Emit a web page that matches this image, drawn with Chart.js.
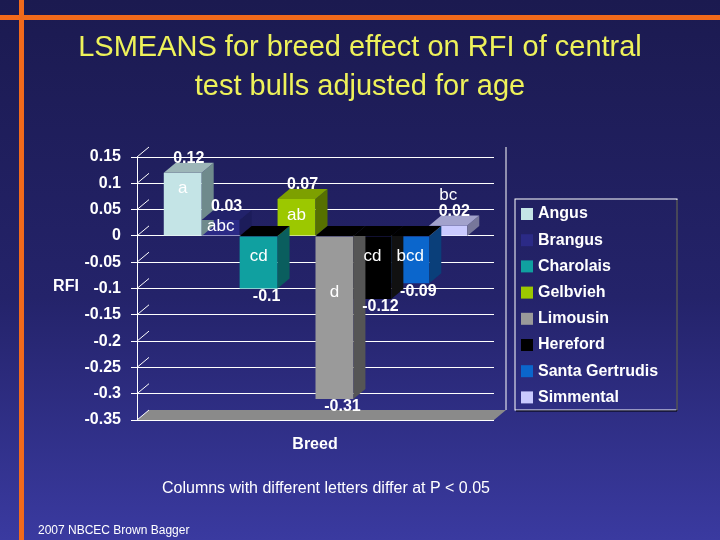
<!DOCTYPE html>
<html>
<head>
<meta charset="utf-8">
<script src="https://cdn.jsdelivr.net/npm/chart.js@4"></script>
<style>
  html, body { margin: 0; padding: 0; }
  body { width: 720px; height: 540px; overflow: hidden;
         background: linear-gradient(#1b1a50 0%, #24236a 55%, #3a3aa0 100%); }
  #chart { position: absolute; left: 0; top: 0; }
</style>
</head>
<body>
<canvas id="chart" width="720" height="540"></canvas>
<script>
// data
const breeds = ['Angus', 'Brangus', 'Charolais', 'Gelbvieh', 'Limousin', 'Hereford', 'Santa Gertrudis', 'Simmental'];
const rfi = [0.12, 0.03, -0.1, 0.07, -0.31, -0.12, -0.09, 0.02];
const letters = ['a', 'abc', 'cd', 'ab', 'd', 'cd', 'bcd', 'bc'];
const yTicks = [0.15, 0.1, 0.05, 0, -0.05, -0.1, -0.15, -0.2, -0.25, -0.3, -0.35];

const colors = ['#c4e4e6', '#2b2a86', '#10a0a0', '#9cc800', '#9a9a9a', '#000000', '#0b66cc', '#cacaff'];
const sideColors = ['#6f8a8c', '#1c1c5a', '#0a5e5e', '#567000', '#555555', '#111111', '#0a3f7a', '#77779a'];
const DX = 12, DY = 10;
const FONT = '"Liberation Sans", Arial, sans-serif';

function shade(hex, f) {
    const n = parseInt(hex.slice(1), 16);
    const r = Math.min(255, Math.round(((n >> 16) & 255) * f));
    const g = Math.min(255, Math.round(((n >> 8) & 255) * f));
    const b = Math.min(255, Math.round((n & 255) * f));
    return `rgb(${r},${g},${b})`;
}

// 3D faces behind / beside bars
const bars3d = {
    id: 'bars3d',
    beforeDatasetsDraw(chart) {
        const ctx = chart.ctx;
        const y = chart.scales.y;
        const area = chart.chartArea;
        const yMin = y.getPixelForValue(-0.35);
        ctx.save();
        // floor slab
        ctx.fillStyle = '#8a8a8a';
        ctx.beginPath();
        ctx.moveTo(area.left, yMin);
        ctx.lineTo(area.left + DX, yMin - DY);
        ctx.lineTo(area.right + DX, yMin - DY);
        ctx.lineTo(area.right, yMin);
        ctx.closePath();
        ctx.fill();
        ctx.strokeStyle = '#ffffff';
        ctx.lineWidth = 1;
        ctx.beginPath();
        ctx.moveTo(area.right + DX, area.top - DY);
        ctx.lineTo(area.right + DX, yMin - DY);
        ctx.stroke();
        y.ticks.forEach(t => {
            const py = y.getPixelForValue(t.value);
            ctx.beginPath();
            ctx.moveTo(area.left, py);
            ctx.lineTo(area.left + DX, py - DY);
            ctx.stroke();
        });
        ctx.restore();
    },
    afterDatasetsDraw(chart) {
        const ctx = chart.ctx;
        const y0 = chart.scales.y.getPixelForValue(0);
        ctx.save();
        chart.data.datasets.forEach((ds, i) => {
            const bar = chart.getDatasetMeta(i).data[0];
            const l = bar.x - bar.width / 2, r = bar.x + bar.width / 2;
            const top = Math.min(bar.y, y0), bot = Math.max(bar.y, y0);
            ctx.fillStyle = sideColors[i];
            ctx.beginPath();
            ctx.moveTo(r, top); ctx.lineTo(r + DX, top - DY);
            ctx.lineTo(r + DX, bot - DY); ctx.lineTo(r, bot);
            ctx.closePath(); ctx.fill();
            ctx.fillStyle = ds.data[0] >= 0 ? shade(colors[i], 0.8) : '#000000';
            ctx.beginPath();
            ctx.moveTo(l, top); ctx.lineTo(l + DX, top - DY);
            ctx.lineTo(r + DX, top - DY); ctx.lineTo(r, top);
            ctx.closePath(); ctx.fill();
        });
        ctx.restore();
    }
};

// labels, titles, legend
const decor = {
    id: 'decor',
    afterDraw(chart) {
        const ctx = chart.ctx;
        const y = chart.scales.y;
        const y0 = y.getPixelForValue(0);
        ctx.save();
        // orange frame lines
        ctx.fillStyle = '#f26a1b';
        ctx.fillRect(0, 15, 720, 5);
        ctx.fillRect(19, 0, 5, 540);

        ctx.fillStyle = '#eef25a';
        ctx.font = '29px ' + FONT;
        ctx.textAlign = 'center';
        ctx.textBaseline = 'middle';
        ctx.fillText('LSMEANS for breed effect on RFI of central', 360, 48);
        ctx.fillText('test bulls adjusted for age', 360, 87);

        ctx.fillStyle = '#ffffff';
        ctx.font = 'bold 16px ' + FONT;
        ctx.fillText('RFI', 66, 287);
        ctx.fillText('Breed', 315, 445);
        ctx.font = '16px ' + FONT;
        ctx.fillText('Columns with different letters differ at P < 0.05', 326, 489);
        ctx.textAlign = 'left';
        ctx.font = '12px ' + FONT;
        ctx.fillText('2007 NBCEC Brown Bagger', 38, 531);

        // value + letter labels
        chart.data.datasets.forEach((ds, i) => {
            const bar = chart.getDatasetMeta(i).data[0];
            const v = ds.data[0];
            ctx.textAlign = 'center';
            ctx.font = 'bold 16px ' + FONT;
            ctx.fillStyle = '#ffffff';
            if (v >= 0) {
                ctx.fillText(String(v), bar.x + 6, bar.y - 14);
            } else {
                ctx.fillText(String(v), bar.x + 8, bar.y + 8);
            }
            ctx.font = '17px ' + FONT;
            let ly;
            if (v >= 0) ly = (bar.y + 16 < y0 - 8) ? bar.y + 16 : bar.y - 30;
            else ly = y0 + 20;
            if (i === 1) ly = y0 - 10;
            if (i === 4) ly = y0 + 56;
            ctx.fillText(letters[i], bar.x, ly);
        });

        // legend box
        const lx = 515, ly0 = 199;
        ctx.strokeStyle = '#ffffff';
        ctx.lineWidth = 1;
        ctx.strokeRect(lx, ly0, 162, 211);
        ctx.strokeStyle = '#000000';
        ctx.beginPath();
        ctx.moveTo(lx + 162, ly0 + 1); ctx.lineTo(lx + 162, ly0 + 212); ctx.lineTo(lx + 1, ly0 + 212);
        ctx.stroke();
        ctx.font = 'bold 16px ' + FONT;
        ctx.textAlign = 'left';
        breeds.forEach((b, i) => {
            const cy = 214 + i * 26.2;
            ctx.fillStyle = colors[i];
            ctx.fillRect(521, cy - 6, 12, 12);
            ctx.fillStyle = '#ffffff';
            ctx.fillText(b, 538, cy);
        });
        ctx.restore();
    }
};

new Chart(document.getElementById('chart'), {
    type: 'bar',
    data: {
        labels: [''],
        datasets: breeds.map((b, i) => ({
            label: b,
            data: [rfi[i]],
            backgroundColor: colors[i],
            borderWidth: 0
        }))
    },
    options: {
        responsive: false,
        animation: false,
        devicePixelRatio: 1,
        layout: { padding: { top: 157, right: 226, bottom: 112, left: 50 } },
        plugins: { legend: { display: false }, tooltip: { enabled: false } },
        datasets: { bar: { categoryPercentage: 0.85, barPercentage: 1.0 } },
        scales: {
            x: {
                ticks: { display: false },
                grid: { display: false },
                border: { display: false }
            },
            y: {
                min: -0.35,
                max: 0.15,
                afterFit(scale) { scale.width = 87; },
                afterBuildTicks(scale) { scale.ticks = yTicks.map(v => ({ value: v })); },
                ticks: {
                    color: '#ffffff',
                    font: { family: FONT, size: 16, weight: 'bold' },
                    padding: 10,
                    callback: v => String(Math.round(v * 100) / 100)
                },
                grid: { color: '#ffffff', drawTicks: true, tickLength: 6 },
                border: { color: '#ffffff' }
            }
        }
    },
    plugins: [bars3d, decor]
});
</script>
</body>
</html>
